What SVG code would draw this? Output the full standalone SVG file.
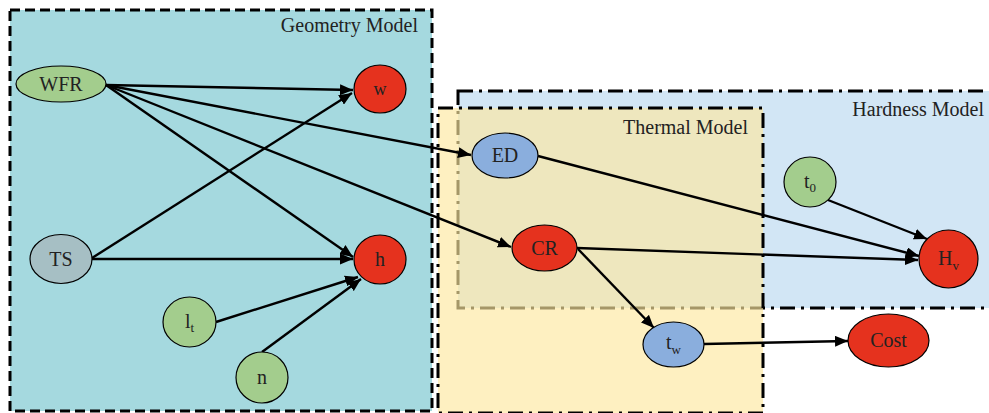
<svg xmlns="http://www.w3.org/2000/svg" width="989" height="413" viewBox="0 0 989 413">
  <defs>
    <marker id="arrow" markerUnits="userSpaceOnUse" markerWidth="13" markerHeight="11" refX="13" refY="5.5" orient="auto">
      <path d="M0,0 L13,5.5 L0,11 z" fill="#000"/>
    </marker>
    <style>
      .region-label { font-family: "Liberation Serif", "Times New Roman", serif; font-size: 20px; fill: #222; text-anchor: end; }
      .node-label { font-family: "Liberation Serif", "Times New Roman", serif; font-size: 20px; fill: #222; text-anchor: middle; }
      .sub { font-size: 13px; }
      .node { stroke: #000; stroke-width: 1.2; }
      .red { fill: #e5321e; }
      .green { fill: #a3cd8d; }
      .blue { fill: #8aaedd; }
      .grey { fill: #a6bfc4; }
      .edge { stroke: #000; stroke-width: 2.4; fill: none; marker-end: url(#arrow); }
      .dashed { stroke: #000; stroke-width: 3; stroke-dasharray: 10 5; }
      .dashdot { stroke: #000; stroke-width: 3; stroke-dasharray: 15 6 3 6; }
    </style>
  </defs>

  <!-- Model regions -->
  <g id="geometry-model">
    <rect x="10" y="10" width="422" height="401" fill="#a5d9df" class="dashed"/>
    <text class="region-label" x="418" y="32">Geometry Model</text>
  </g>
  <g id="hardness-model">
    <rect x="458" y="91" width="540" height="217" fill="#d2e6f5" class="dashdot"/>
    <text class="region-label" x="984" y="116">Hardness Model</text>
  </g>
  <g id="thermal-model">
    <rect x="438" y="108" width="325" height="305" fill="#fde8a0" fill-opacity="0.65" class="dashdot"/>
    <text class="region-label" x="748" y="134">Thermal Model</text>
  </g>

  <!-- Connectors -->
  <g id="connectors">
    <line class="edge" x1="106" y1="85" x2="353" y2="90"/>
    <line class="edge" x1="106" y1="85" x2="471" y2="155"/>
    <line class="edge" x1="106" y1="85" x2="511" y2="247"/>
    <line class="edge" x1="106" y1="85" x2="353" y2="257"/>
    <line class="edge" x1="92" y1="258" x2="352" y2="93"/>
    <line class="edge" x1="92" y1="259" x2="353" y2="259"/>
    <line class="edge" x1="216" y1="322" x2="358" y2="277"/>
    <line class="edge" x1="262" y1="352" x2="361" y2="279"/>
    <line class="edge" x1="538" y1="156" x2="919" y2="256"/>
    <line class="edge" x1="577" y1="248" x2="918" y2="260"/>
    <line class="edge" x1="828" y1="200" x2="927" y2="239"/>
    <line class="edge" x1="578" y1="249" x2="654" y2="328"/>
    <line class="edge" x1="704" y1="344" x2="848" y2="341"/>
  </g>

  <!-- Nodes -->
  <g id="node-WFR">
    <ellipse class="node green" cx="61" cy="84" rx="45" ry="18"/>
    <text class="node-label" x="61" y="91">WFR</text>
  </g>
  <g id="node-w">
    <ellipse class="node red" cx="380" cy="89" rx="26" ry="24"/>
    <text class="node-label" x="380" y="95" style="font-size:18px">w</text>
  </g>
  <g id="node-TS">
    <ellipse class="node grey" cx="61" cy="259" rx="31" ry="24.5"/>
    <text class="node-label" x="61" y="266">TS</text>
  </g>
  <g id="node-h">
    <ellipse class="node red" cx="380" cy="259.5" rx="26" ry="24.5"/>
    <text class="node-label" x="380" y="266">h</text>
  </g>
  <g id="node-lt">
    <ellipse class="node green" cx="189.5" cy="322" rx="26.5" ry="25"/>
    <text class="node-label" x="189.5" y="328">l<tspan class="sub" dy="4">t</tspan></text>
  </g>
  <g id="node-n">
    <ellipse class="node green" cx="262" cy="377.5" rx="26" ry="25.5"/>
    <text class="node-label" x="262" y="384">n</text>
  </g>
  <g id="node-ED">
    <ellipse class="node blue" cx="505" cy="155.5" rx="33" ry="22.5"/>
    <text class="node-label" x="505" y="162">ED</text>
  </g>
  <g id="node-CR">
    <ellipse class="node red" cx="544.5" cy="248" rx="32.5" ry="23"/>
    <text class="node-label" x="544.5" y="255">CR</text>
  </g>
  <g id="node-t0">
    <ellipse class="node green" cx="810" cy="182" rx="26" ry="25"/>
    <text class="node-label" x="810" y="188">t<tspan class="sub" dy="4">0</tspan></text>
  </g>
  <g id="node-Hv">
    <ellipse class="node red" cx="948.5" cy="259" rx="29.5" ry="29"/>
    <text class="node-label" x="948.5" y="265">H<tspan class="sub" dy="5">v</tspan></text>
  </g>
  <g id="node-tw">
    <ellipse class="node blue" cx="673.5" cy="344.5" rx="30.5" ry="22.5"/>
    <text class="node-label" x="673.5" y="349">t<tspan class="sub" dy="5">w</tspan></text>
  </g>
  <g id="node-Cost">
    <ellipse class="node red" cx="888.5" cy="340.5" rx="40.5" ry="26.5"/>
    <text class="node-label" x="888.5" y="347">Cost</text>
  </g>
</svg>
